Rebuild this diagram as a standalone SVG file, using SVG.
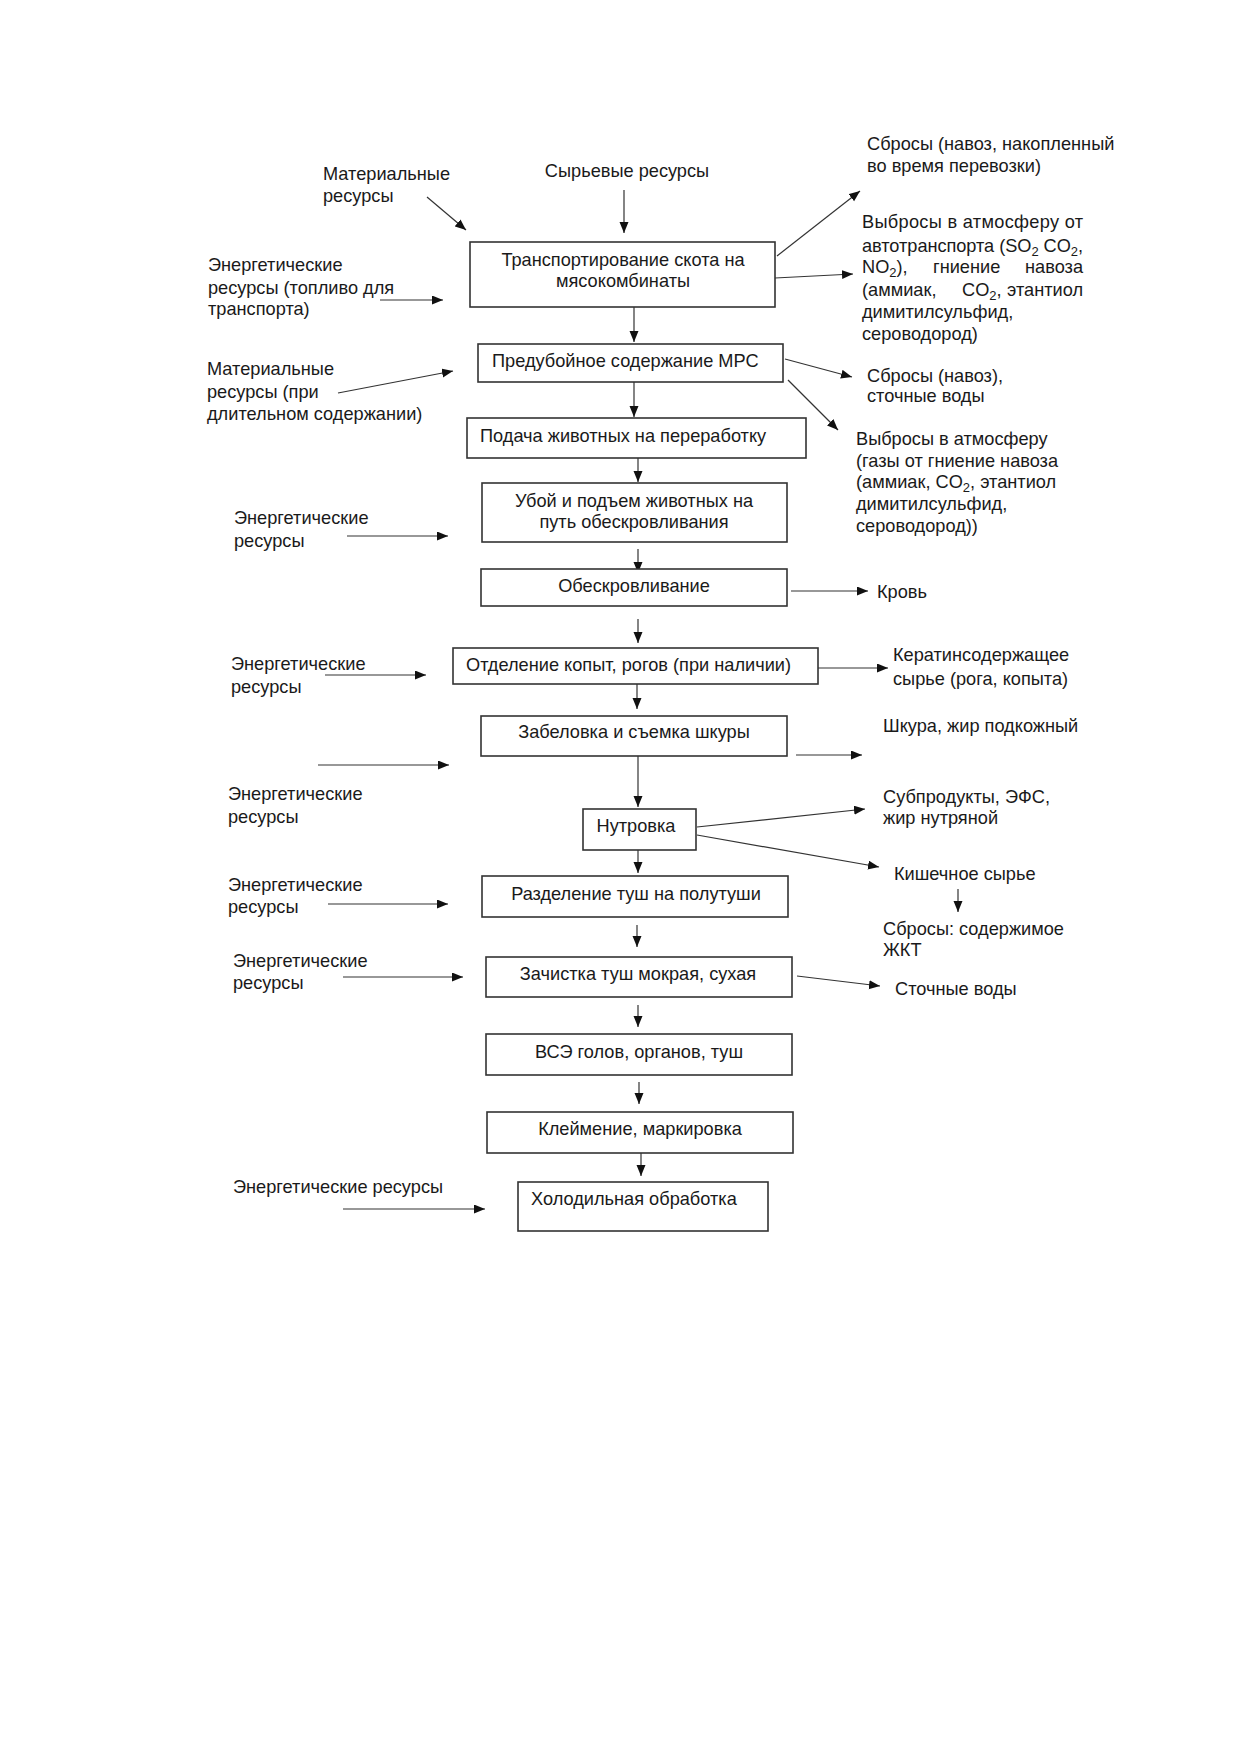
<svg xmlns="http://www.w3.org/2000/svg" width="1240" height="1754" viewBox="0 0 1240 1754">
<style>
text{font-family:"Liberation Sans",Arial,sans-serif;font-size:18.2px;fill:#1a1a1a}
.c{text-anchor:middle}
.e{text-anchor:end}
.box{fill:#fff;stroke:#333;stroke-width:1.6}
.ln{stroke:#333;stroke-width:1.2;fill:none;marker-end:url(#ah)}
.sub{font-size:13px}
</style>
<defs>
<marker id="ah" markerUnits="userSpaceOnUse" markerWidth="12" markerHeight="10" refX="11" refY="4.5" orient="auto">
<path d="M0,0 L11,4.5 L0,9 z" fill="#111"/>
</marker>
</defs>
<rect width="1240" height="1754" fill="#fff"/>

<g id="connectors">
<line class="ln" x1="624" y1="190" x2="624" y2="233"/>
<line class="ln" x1="427" y1="197" x2="466" y2="230"/>
<line class="ln" x1="380" y1="300" x2="443" y2="300"/>
<line class="ln" x1="338" y1="393" x2="453" y2="371"/>
<line class="ln" x1="777" y1="256" x2="860" y2="191"/>
<line class="ln" x1="775" y1="278" x2="853" y2="274"/>
<line class="ln" x1="634" y1="307" x2="634" y2="342"/>
<line class="ln" x1="785" y1="359" x2="852" y2="377"/>
<line class="ln" x1="788" y1="380" x2="838" y2="430"/>
<line class="ln" x1="634" y1="382" x2="634" y2="417"/>
<line class="ln" x1="638" y1="458" x2="638" y2="482"/>
<line class="ln" x1="347" y1="536" x2="448" y2="536"/>
<line class="ln" x1="638" y1="549" x2="638" y2="573"/>
<line class="ln" x1="791" y1="591" x2="868" y2="591"/>
<line class="ln" x1="638" y1="619" x2="638" y2="643"/>
<line class="ln" x1="325" y1="675" x2="426" y2="675"/>
<line class="ln" x1="818" y1="668" x2="888" y2="668"/>
<line class="ln" x1="637" y1="684" x2="637" y2="709"/>
<line class="ln" x1="318" y1="765" x2="449" y2="765"/>
<line class="ln" x1="796" y1="755" x2="862" y2="755"/>
<line class="ln" x1="638" y1="756" x2="638" y2="807"/>
<line class="ln" x1="697" y1="827" x2="865" y2="809"/>
<line class="ln" x1="697" y1="835" x2="879" y2="867"/>
<line class="ln" x1="958" y1="889" x2="958" y2="912"/>
<line class="ln" x1="638" y1="850" x2="638" y2="873"/>
<line class="ln" x1="328" y1="904" x2="448" y2="904"/>
<line class="ln" x1="637" y1="925" x2="637" y2="947"/>
<line class="ln" x1="343" y1="977" x2="463" y2="977"/>
<line class="ln" x1="797" y1="976" x2="880" y2="986"/>
<line class="ln" x1="638" y1="1005" x2="638" y2="1027"/>
<line class="ln" x1="639" y1="1082" x2="639" y2="1104"/>
<line class="ln" x1="641" y1="1153" x2="641" y2="1176"/>
<line class="ln" x1="343" y1="1209" x2="485" y2="1209"/>
</g>

<g id="n1"><rect class="box" x="470" y="242" width="305" height="65"/>
<text class="c" x="623" y="266">Транспортирование скота на</text>
<text class="c" x="623" y="287">мясокомбинаты</text></g>
<g id="n2"><rect class="box" x="478" y="344" width="305" height="38"/>
<text x="492" y="367">Предубойное содержание МРС</text></g>
<g id="n3"><rect class="box" x="467" y="418" width="339" height="40"/>
<text x="480" y="442">Подача животных на переработку</text></g>
<g id="n4"><rect class="box" x="482" y="483" width="305" height="59"/>
<text class="c" x="634" y="507">Убой и подъем животных на</text>
<text class="c" x="634" y="528">путь обескровливания</text></g>
<g id="n5"><rect class="box" x="481" y="569" width="306" height="37"/>
<text class="c" x="634" y="592">Обескровливание</text></g>
<g id="n6"><rect class="box" x="453" y="648" width="365" height="36"/>
<text x="466" y="671">Отделение копыт, рогов (при наличии)</text></g>
<g id="n7"><rect class="box" x="481" y="716" width="306" height="40"/>
<text class="c" x="634" y="738">Забеловка и съемка шкуры</text></g>
<g id="n8"><rect class="box" x="583" y="809" width="113" height="41"/>
<text class="c" x="636" y="832">Нутровка</text></g>
<g id="n9"><rect class="box" x="482" y="876" width="306" height="41"/>
<text class="c" x="636" y="900">Разделение туш на полутуши</text></g>
<g id="n10"><rect class="box" x="486" y="957" width="306" height="40"/>
<text class="c" x="638" y="980">Зачистка туш мокрая, сухая</text></g>
<g id="n11"><rect class="box" x="486" y="1034" width="306" height="41"/>
<text class="c" x="639" y="1058">ВСЭ голов, органов, туш</text></g>
<g id="n12"><rect class="box" x="487" y="1112" width="306" height="41"/>
<text class="c" x="640" y="1135">Клеймение, маркировка</text></g>
<g id="n13"><rect class="box" x="518" y="1182" width="250" height="49"/>
<text x="531" y="1205">Холодильная обработка</text></g>

<g id="in-raw"><text class="c" x="627" y="177">Сырьевые ресурсы</text></g>
<g id="in-mat1"><text x="323" y="180">Материальные</text><text x="323" y="202">ресурсы</text></g>
<g id="in-en1"><text x="208" y="271">Энергетические</text><text x="208" y="294">ресурсы (топливо для</text><text x="208" y="315">транспорта)</text></g>
<g id="in-mat2"><text x="207" y="375">Материальные</text><text x="207" y="398">ресурсы (при</text><text x="207" y="420">длительном содержании)</text></g>
<g id="in-en2"><text x="234" y="524">Энергетические</text><text x="234" y="547">ресурсы</text></g>
<g id="in-en3"><text x="231" y="670">Энергетические</text><text x="231" y="693">ресурсы</text></g>
<g id="in-en4"><text x="228" y="800">Энергетические</text><text x="228" y="823">ресурсы</text></g>
<g id="in-en5"><text x="228" y="891">Энергетические</text><text x="228" y="913">ресурсы</text></g>
<g id="in-en6"><text x="233" y="967">Энергетические</text><text x="233" y="989">ресурсы</text></g>
<g id="in-en7"><text x="233" y="1193">Энергетические ресурсы</text></g>

<g id="out-1"><text x="867" y="150">Сбросы (навоз, накопленный</text><text x="867" y="172">во время перевозки)</text></g>
<g id="out-2">
<text x="862" y="228" textLength="221" lengthAdjust="spacing">Выбросы в атмосферу от</text>
<text x="862" y="252" textLength="221" lengthAdjust="spacing">автотранспорта (SO<tspan class="sub" dy="4">2</tspan><tspan dy="-4"> CO</tspan><tspan class="sub" dy="4">2</tspan><tspan dy="-4">,</tspan></text>
<text x="862" y="273">NO<tspan class="sub" dy="4">2</tspan><tspan dy="-4">),</tspan></text><text x="933" y="273">гниение</text><text class="e" x="1083" y="273">навоза</text>
<text x="862" y="296">(аммиак,</text><text x="962" y="296">CO<tspan class="sub" dy="4">2</tspan><tspan dy="-4">,</tspan></text><text class="e" x="1083" y="296">этантиол</text>
<text x="862" y="318">димитилсульфид,</text>
<text x="862" y="340">сероводород)</text></g>
<g id="out-3"><text x="867" y="382">Сбросы (навоз),</text><text x="867" y="402">сточные воды</text></g>
<g id="out-4"><text x="856" y="445">Выбросы в атмосферу</text><text x="856" y="467">(газы от гниение навоза</text>
<text x="856" y="488">(аммиак, CO<tspan class="sub" dy="4">2</tspan><tspan dy="-4">, этантиол</tspan></text>
<text x="856" y="510">димитилсульфид,</text><text x="856" y="532">сероводород))</text></g>
<g id="out-5"><text x="877" y="598">Кровь</text></g>
<g id="out-6"><text x="893" y="661">Кератинсодержащее</text><text x="893" y="685">сырье (рога, копыта)</text></g>
<g id="out-7"><text x="883" y="732">Шкура, жир подкожный</text></g>
<g id="out-8"><text x="883" y="803">Субпродукты, ЭФС,</text><text x="883" y="824">жир нутряной</text></g>
<g id="out-9"><text x="894" y="880">Кишечное сырье</text></g>
<g id="out-10"><text x="883" y="935">Сбросы: содержимое</text><text x="883" y="956">ЖКТ</text></g>
<g id="out-11"><text x="895" y="995">Сточные воды</text></g>
</svg>
